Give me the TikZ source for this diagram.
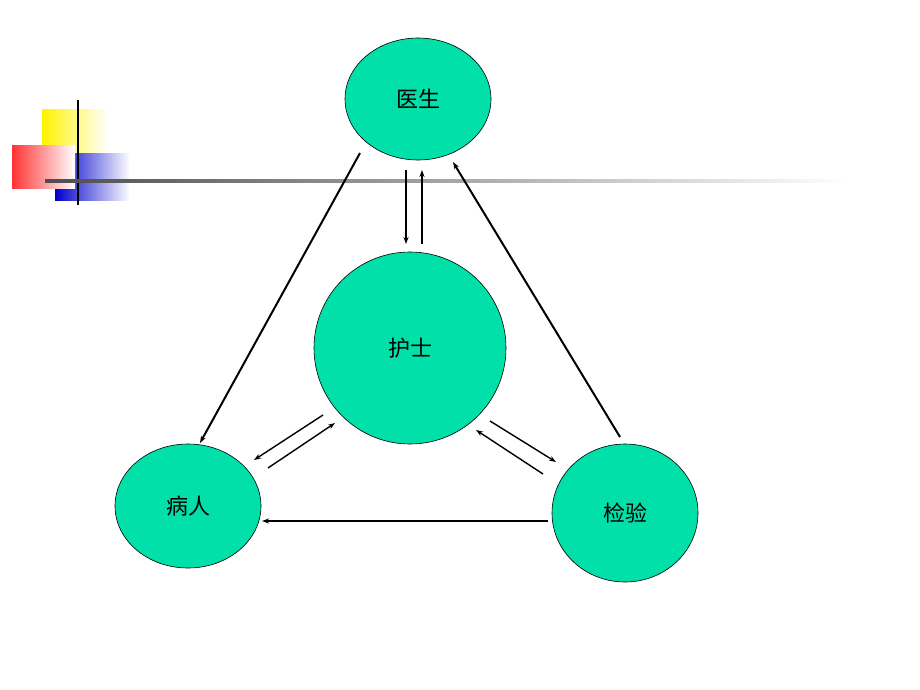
\documentclass[tikz,border=0pt]{standalone}
\usepackage{fontspec}
\newfontfamily\cjk{Noto Sans CJK SC}
\usetikzlibrary{arrows.meta,shapes.geometric}
\begin{document}
\begin{tikzpicture}[x=1pt,y=-1pt,
  circ/.style={ellipse,draw=black,line width=0.6pt,fill=nodefill,inner sep=0pt,font=\cjk\fontsize{22}{22}\selectfont},
  arr/.style={-{Stealth[length=7pt,width=5pt]},line width=2pt},
  arrs/.style={-{Stealth[length=7pt,width=5pt]},line width=1.4pt}]
\definecolor{nodefill}{RGB}{0,224,168}
\useasboundingbox (0,0) rectangle (920,690);
\fill[white] (0,0) rectangle (920,690);
% decoration
\shade[left color=yellow!90!orange,right color=white] (42,110) rectangle (108,152);
\shade[left color=blue!80!black,right color=white] (55,153) rectangle (130,200);
\shade[left color=red!80,right color=white] (12,145) rectangle (75,188);
\draw[line width=1.8pt] (78,100) -- (78,205);
\shade[left color=black!70,right color=white] (45,179.5) rectangle (850,182.5);
% nodes
\node[circ,minimum width=146pt,minimum height=122pt] (doc) at (418,99) {医生};
\node[circ,minimum width=192pt,minimum height=192pt] (nur) at (410,348) {护士};
\node[circ,minimum width=146pt,minimum height=124pt] (pat) at (188,506) {病人};
\node[circ,minimum width=146pt,minimum height=138pt] (lab) at (625,513) {检验};
% connectors
\coordinate (a1) at (360,153); \coordinate (a2) at (200,443);
\draw[arr] (a1) -- (a2);
\coordinate (b1) at (620,437); \coordinate (b2) at (453,162);
\draw[arr] (b1) -- (b2);
\coordinate (c1) at (548,521); \coordinate (c2) at (262,521);
\draw[arr] (c1) -- (c2);
\coordinate (d1) at (406,170); \coordinate (d2) at (406,244);
\draw[arrs] (d1) -- (d2);
\coordinate (e1) at (422,244); \coordinate (e2) at (422,170);
\draw[arrs] (e1) -- (e2);
\coordinate (f1) at (323,415); \coordinate (f2) at (254,460);
\draw[arrs] (f1) -- (f2);
\coordinate (g1) at (268,468); \coordinate (g2) at (335,423);
\draw[arrs] (g1) -- (g2);
\coordinate (h1) at (490,421); \coordinate (h2) at (556,462);
\draw[arrs] (h1) -- (h2);
\coordinate (i1) at (543,474); \coordinate (i2) at (476,430);
\draw[arrs] (i1) -- (i2);
\end{tikzpicture}
\end{document}
